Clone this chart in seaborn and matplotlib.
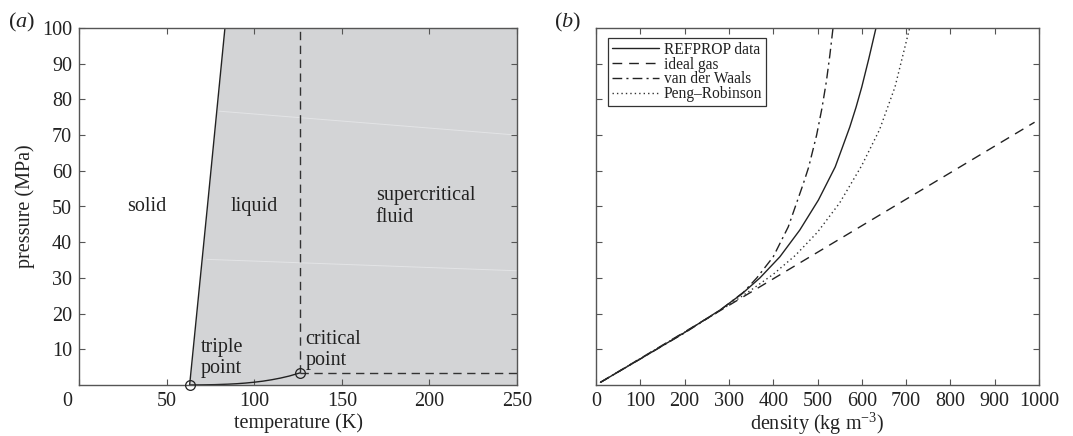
import matplotlib
matplotlib.use("Agg")
import matplotlib.pyplot as plt
import seaborn as sns
import pandas as pd
from matplotlib.transforms import ScaledTranslation

# ---------------- data ----------------
# (a) nitrogen phase diagram
melt_T = [63.15, 73.3, 83.3]
melt_P = [0.0125, 50.0, 100.0]
vap_T = [63.15, 70.0, 77.4, 85.0, 90.0, 95.0, 100.0, 105.0, 110.0, 115.0, 120.0, 126.2]
vap_P = [0.0125, 0.038, 0.10, 0.23, 0.36, 0.54, 0.78, 1.08, 1.47, 1.94, 2.51, 3.40]
point_T = [63.15, 126.2]          # triple point, critical point
point_P = [0.0125, 3.40]
seam_T = [[80.0, 250.0], [72.8, 250.0]]
seam_P = [[76.7, 70.0], [35.2, 32.0]]
region_text = ["solid", "liquid", "supercritical\nfluid", "triple\npoint", "critical\npoint"]
region_T = [38.6, 99.8, 169.4, 69.6, 129.3]
region_P = [49.9, 50.0, 50.0, 7.5, 9.9]
region_ha = ["center", "center", "left", "left", "left"]

# (b) isotherm, pressure versus density
refprop_rho = [10, 100, 200, 280, 330, 370, 415, 460, 502, 520, 540, 556, 573, 587, 600, 616, 632]
refprop_P = [0.74, 7.3, 14.7, 21.0, 25.6, 30.0, 35.9, 43.4, 51.8, 56.2, 61.1, 66.5, 72.3, 77.8,
             83.5, 91.5, 100.0]
ideal_rho = [10, 990]
ideal_P = [0.74, 73.6]
vdw_rho = [10, 100, 200, 280, 333, 363, 400, 434, 468, 480, 498, 510, 520, 528, 535]
vdw_P = [0.74, 7.3, 14.6, 20.9, 26.0, 30.0, 35.9, 44.3, 56.4, 61.0, 70.0, 77.5, 85.0, 92.5, 100.0]
pr_rho = [10, 100, 200, 300, 350, 400, 450, 500, 550, 600, 640, 675, 708]
pr_P = [0.74, 7.4, 14.8, 22.4, 26.6, 31.0, 36.3, 42.8, 51.0, 61.5, 71.5, 83.5, 100.0]

# ---------------- style ----------------
sns.set_theme(style="ticks")
plt.rcParams['font.family'] = ['Liberation Serif', 'DejaVu Serif']
plt.rcParams['mathtext.fontset'] = 'custom'
plt.rcParams['mathtext.rm'] = 'Liberation Serif'
plt.rcParams['mathtext.it'] = 'Liberation Serif:italic'

INK = '#222222'
SPINE = '#555555'
FS = 14.5

fig = plt.figure(figsize=(10.73, 4.36), dpi=100)
ax_a = fig.add_axes([79 / 1073, 51 / 436, 438 / 1073, 357 / 436])
ax_b = fig.add_axes([596 / 1073, 51 / 436, 443 / 1073, 357 / 436])


def style_axes(ax):
    for s in ax.spines.values():
        s.set_color(SPINE)
        s.set_linewidth(1.0)
    ax.tick_params(direction='in', length=4, width=0.8, color=SPINE,
                   top=True, right=True, labelsize=FS, labelcolor=INK, pad=5)


# ---------------- panel (a) ----------------
ax_a.fill_betweenx(melt_P, melt_T, 250, color='#d3d4d6', lw=0, zorder=0)
for tt, pp in zip(seam_T, seam_P):
    ax_a.plot(tt, pp, color='#e3e4e6', lw=0.7, zorder=0.5)

sns.lineplot(x=melt_T, y=melt_P, ax=ax_a, color=INK, lw=1.0, sort=False, estimator=None)
sns.lineplot(x=vap_T, y=vap_P, ax=ax_a, color=INK, lw=1.0, sort=False, estimator=None)
ax_a.plot([point_T[1], point_T[1]], [point_P[1], 100], color='#333333', lw=1.0, dashes=(6, 4))
ax_a.plot([point_T[1], 250], [point_P[1], point_P[1]], color='#333333', lw=1.0, dashes=(6, 4))
ax_a.plot(point_T, point_P, ls='none', marker='o', ms=7, mfc='none', mec=INK, mew=0.9,
          clip_on=False, zorder=5)

for txt, tt, pp, ha in zip(region_text, region_T, region_P, region_ha):
    ax_a.text(tt, pp, txt, ha=ha, va='center', fontsize=FS, color=INK, linespacing=1.15)

ax_a.set_xlim(0, 250)
ax_a.set_ylim(0, 100)
ax_a.set_xticks([0, 50, 100, 150, 200, 250])
ax_a.set_yticks(range(10, 101, 10))
ax_a.set_xlabel('temperature (K)', fontsize=FS, color=INK, labelpad=2)
ax_a.set_ylabel('pressure (MPa)', fontsize=FS, color=INK, labelpad=5)
style_axes(ax_a)
lbl0 = ax_a.get_xticklabels()[0]
lbl0.set_transform(lbl0.get_transform() + ScaledTranslation(-12 / 100, 0, fig.dpi_scale_trans))

# ---------------- panel (b) ----------------
sns.lineplot(x=refprop_rho, y=refprop_P, ax=ax_b, color=INK, lw=1.0,
             sort=False, estimator=None, label='REFPROP data')
sns.lineplot(x=ideal_rho, y=ideal_P, ax=ax_b, color=INK, lw=1.0, dashes=(7, 5),
             sort=False, estimator=None, label='ideal gas')
sns.lineplot(x=vdw_rho, y=vdw_P, ax=ax_b, color=INK, lw=1.0, dashes=(7, 3, 1.5, 3),
             sort=False, estimator=None, label='van der Waals')
sns.lineplot(x=pr_rho, y=pr_P, ax=ax_b, color='#333333', lw=1.0, dashes=(1, 2.2),
             sort=False, estimator=None, label='Peng\u2013Robinson')

ax_b.set_xlim(0, 1000)
ax_b.set_ylim(0, 100)
ax_b.set_xticks(range(0, 1001, 100))
ax_b.set_yticks(range(10, 91, 10))
ax_b.set_yticklabels([])
ax_b.set_xlabel('')
ax_b.set_ylabel('')
style_axes(ax_b)
# x label placed on its baseline so the superscript does not push it down
fig.text((596 + 443 / 2) / 1073, (436 - 430) / 436, 'density (kg m$^{\\mathregular{-3}}$)',
         fontsize=FS, color=INK, ha='center', va='baseline')

leg = ax_b.legend(loc='upper left', bbox_to_anchor=(0.028, 0.972), fontsize=11.2,
                  frameon=True, fancybox=False, edgecolor='#333333', framealpha=1,
                  borderpad=0.25, labelspacing=-0.08, handlelength=3.0, handletextpad=0.3,
                  borderaxespad=0)
leg.get_frame().set_linewidth(0.9)
for t in leg.get_texts():
    t.set_color(INK)

# panel tags
fig.text(8 / 1073, 1 - 22 / 436, '($\\mathit{a}$)', fontsize=16, color=INK, va='center')
fig.text(554 / 1073, 1 - 22 / 436, '($\\mathit{b}$)', fontsize=16, color=INK, va='center')

fig.savefig('out.png', dpi=100)
